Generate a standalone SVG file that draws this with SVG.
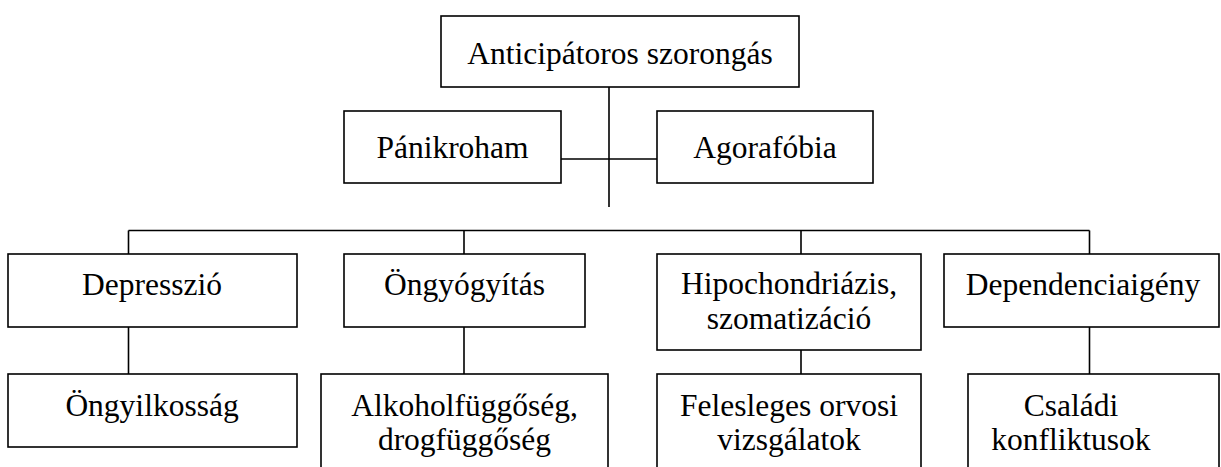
<svg xmlns="http://www.w3.org/2000/svg" width="1221" height="467" viewBox="0 0 1221 467">
<style>
.b{fill:#fff;stroke:#000;stroke-width:1.6}
.c{fill:none;stroke:#000;stroke-width:1.6}
.t{font-family:'Liberation Serif','Times New Roman','DejaVu Serif',serif;font-size:31.5px;fill:#000;text-anchor:middle}
</style>
<rect width="1221" height="467" fill="#fff"/>
<g id="connectors">
<path class="c" d="M609 87V207M561 159H657M128.5 230.5H1089.5M128.5 230.5V254M464 230.5V254M801 230.5V254M1089.5 230.5V254M128.5 327V374M464 327V374M801 350V374M1089.5 327V374"/>
</g>
<g class="t" font-family="Liberation Serif, serif">
<g id="n1"><rect class="b" x="441" y="16" width="358" height="71"/><text x="620" y="64">Anticipátoros szorongás</text></g>
<g id="n2"><rect class="b" x="344" y="111" width="217" height="72"/><text x="452.5" y="158">Pánikroham</text></g>
<g id="n3"><rect class="b" x="657" y="111" width="216" height="72"/><text x="765" y="158">Agorafóbia</text></g>
<g id="n4"><rect class="b" x="8" y="254" width="289" height="73"/><text x="152" y="295">Depresszió</text></g>
<g id="n5"><rect class="b" x="344" y="254" width="241" height="73"/><text x="464.5" y="295">Öngyógyítás</text></g>
<g id="n6"><rect class="b" x="657" y="254" width="264" height="96"/><text x="789" y="294">Hipochondriázis,</text><text x="789" y="329">szomatizáció</text></g>
<g id="n7"><rect class="b" x="944" y="254" width="275" height="73"/><text x="1083" y="295">Dependenciaigény</text></g>
<g id="n8"><rect class="b" x="8" y="374" width="289" height="73"/><text x="152" y="416">Öngyilkosság</text></g>
<g id="n9"><rect class="b" x="321" y="374" width="287" height="110"/><text x="464.5" y="416">Alkoholfüggőség,</text><text x="464.5" y="450">drogfüggőség</text></g>
<g id="n10"><rect class="b" x="657" y="374" width="264" height="110"/><text x="789" y="416">Felesleges orvosi</text><text x="789" y="450">vizsgálatok</text></g>
<g id="n11"><rect class="b" x="968" y="374" width="251" height="110"/><text x="1071" y="416">Családi</text><text x="1071" y="450">konfliktusok</text></g>
</g>
</svg>
